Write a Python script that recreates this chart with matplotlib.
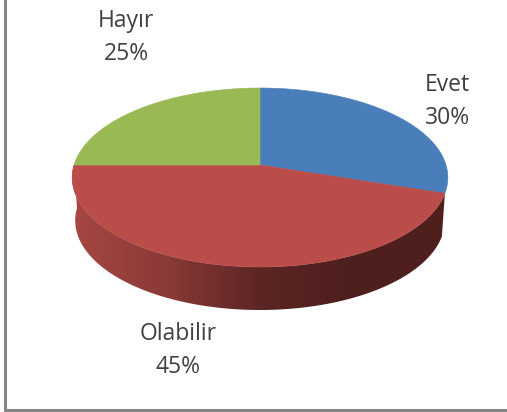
import matplotlib
matplotlib.use('Agg')
import matplotlib.pyplot as plt
from matplotlib.colors import LinearSegmentedColormap
from matplotlib.patches import Polygon
import numpy as np

labels = ['Evet', 'Olabilir', 'Hayır']
values = [30, 45, 25]
colors = ['#4A7EBB', '#BA4D4A', '#98B954']
label_pos = [(447, 101.5), (178, 350.5), (126, 37.5)]

# pie geometry in pixels, the top face is seen in perspective
cx, cy = 260, 165
rx, a, c = 186, 87.75, 0.1397
depth, bottom_rx = 43, 183


def rim(theta, r=rx, dy=0):
    d = 1 + c * np.sin(theta)
    return cx + r * np.cos(theta) / d, cy + dy - a * np.sin(theta) / d


fig = plt.figure(figsize=(5.07, 4.12), dpi=100)
ax = fig.add_axes([0, 0, 1, 1])

# slice angles, clockwise from twelve o'clock
edges = np.pi / 2 - 2 * np.pi * np.cumsum([0] + values) / sum(values)

# side wall of the red slice, shaded from left to right
side = LinearSegmentedColormap.from_list(
    'side', ['#A64743', '#8A3A37', '#5C2624', '#4E1F1D', '#4E1F1D'])
t = np.linspace(edges[2], edges[1], 300)
x1, y1 = rim(t)
x2, y2 = rim(t, bottom_rx, depth)
wall = Polygon(np.column_stack([np.r_[x1, x2[::-1]], np.r_[y1, y2[::-1]]]),
               closed=True, transform=ax.transData, facecolor='none', edgecolor='none')
ax.add_patch(wall)
img = ax.imshow(np.linspace(0, 1, 256).reshape(1, -1), cmap=side, aspect='auto',
                extent=(x1.min(), x1.max(), 320, 160))
img.set_clip_path(wall)

# top face
for i in range(len(values)):
    t = np.linspace(edges[i], edges[i + 1], 200)
    x, y = rim(t)
    pts = np.column_stack([np.r_[cx, x], np.r_[cy, y]])
    ax.add_patch(Polygon(pts, closed=True, facecolor=colors[i], edgecolor=colors[i], linewidth=0.4))

for name, val, pos in zip(labels, values, label_pos):
    ax.text(pos[0], pos[1], f'{name}\n{val}%', ha='center', va='center',
            fontsize=16.5, color='#404040', family='Open Sans', linespacing=1.5)

# chart frame, only the left and bottom edges fall inside the picture
ax.plot([5, 5, 520], [-10, 410, 410], color='#868686', linewidth=2.2, solid_joinstyle='miter')

ax.set_xlim(0, 507)
ax.set_ylim(412, 0)
ax.axis('off')

fig.savefig('out.png', dpi=100)
